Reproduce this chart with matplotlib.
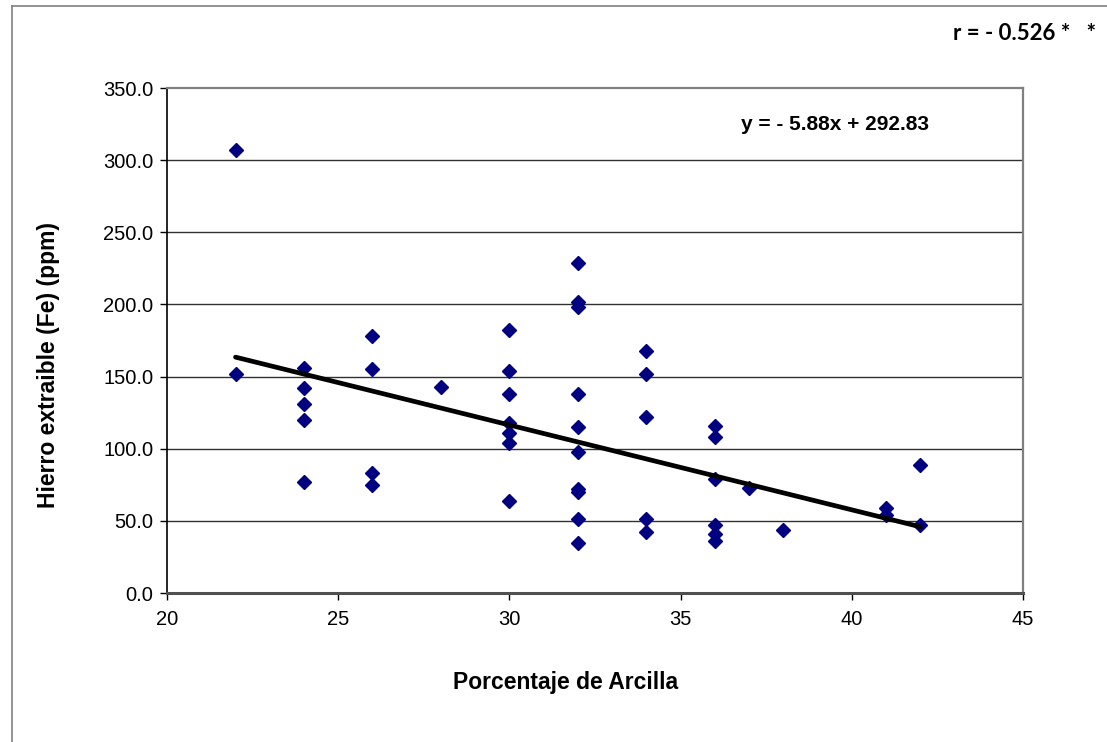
import matplotlib
matplotlib.use("Agg")
import matplotlib.pyplot as plt
from matplotlib.lines import Line2D
import numpy as np

# % clay (x) and extractable iron in ppm (y)
arcilla = [22, 22,
           24, 24, 24, 24, 24,
           26, 26, 26, 26,
           28,
           30, 30, 30, 30, 30, 30, 30,
           32, 32, 32, 32, 32, 32, 32, 32, 32, 32,
           34, 34, 34, 34, 34,
           36, 36, 36, 36, 36, 36,
           37, 38,
           41, 41,
           42, 42]
hierro = [307, 152,
          156, 142, 131, 120, 77,
          178, 155, 83, 75,
          143,
          182, 154, 138, 118, 111, 104, 64,
          229, 202, 198, 138, 115, 98, 72, 70, 51, 35,
          168, 152, 122, 51, 42,
          116, 108, 79, 47, 41, 36,
          73, 44,
          59, 54,
          89, 47]

pendiente = -5.88
intercepto = 292.83
x_rango = [22, 42]

y_ticks = [0, 50, 100, 150, 200, 250, 300, 350]
x_ticks = [20, 25, 30, 35, 40, 45]

plt.rcParams["font.family"] = ["Liberation Sans", "DejaVu Sans"]

fig = plt.figure(figsize=(11.07, 7.42), dpi=100)
ax = fig.add_axes([0.1509, 0.2008, 0.7733, 0.6806])

# outer chart frame (cut off at right and bottom)
fig.add_artist(Line2D([12 / 1107, 12 / 1107], [0, 1 - 6 / 742], transform=fig.transFigure,
                      color="#808080", lw=1.2))
fig.add_artist(Line2D([12 / 1107, 1], [1 - 6 / 742, 1 - 6 / 742], transform=fig.transFigure,
                      color="#808080", lw=1.2))

for yv in y_ticks[1:-1]:
    ax.axhline(yv, color="#303030", lw=1, zorder=1)

ax.plot(arcilla, hierro, linestyle="none", marker="D", markersize=7.4,
        color="#000080", zorder=3)

xs = np.array(x_rango)
ax.plot(xs, pendiente * xs + intercepto, color="black", lw=3.4, zorder=4,
        solid_capstyle="round")

ax.set_xlim(20, 45)
ax.set_ylim(0, 350)
ax.set_xticks(x_ticks)
ax.set_yticks(y_ticks)
ax.set_yticklabels([f"{v:.1f}" for v in y_ticks])
ax.tick_params(axis="both", direction="out", length=5, width=1, labelsize=14.5)
ax.tick_params(axis="y", pad=5)
ax.tick_params(axis="x", pad=7)

ax.spines["top"].set_color("#808080")
ax.spines["right"].set_color("#808080")
ax.spines["top"].set_linewidth(1.6)
ax.spines["right"].set_linewidth(1.6)
ax.spines["left"].set_color("black")
ax.spines["left"].set_linewidth(1.2)
ax.spines["bottom"].set_color("#505050")
ax.spines["bottom"].set_linewidth(2.2)

ax.set_xlabel("Porcentaje de Arcilla", fontsize=16.5, fontweight="bold", va="center")
ax.set_ylabel("Hierro extraible (Fe) (ppm)", fontsize=16.5, fontweight="bold", va="center")
ax.xaxis.set_label_coords(0.465, -0.178)
ax.yaxis.set_label_coords(-0.139, 0.451)

ax.text(0.67, 0.927, "y = - 5.88x + 292.83", transform=ax.transAxes,
        fontsize=15, fontweight="bold", ha="left", va="center")
fig.text(0.99, 0.955, "r = - 0.526 *   *", fontsize=16, fontweight="bold",
         family=["Lato", "DejaVu Sans"], ha="right", va="center")

fig.savefig("out.png", dpi=100, facecolor="white")
